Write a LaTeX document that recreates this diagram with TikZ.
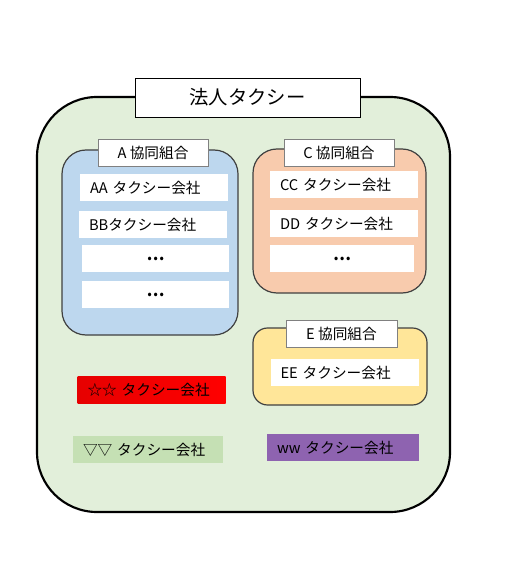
\documentclass[tikz,border=0pt]{standalone}
\usepackage{fontspec}
\setmainfont{Noto Sans CJK JP}
\usepackage{tikz}

\definecolor{outerfill}{RGB}{226,239,218}
\definecolor{bluefill}{RGB}{189,215,238}
\definecolor{orangefill}{RGB}{248,203,173}
\definecolor{yellowfill}{RGB}{255,230,153}
\definecolor{greenfill}{RGB}{197,224,180}
\definecolor{purplefill}{RGB}{142,99,176}
\definecolor{groupline}{RGB}{64,64,64}

\begin{document}
\begin{tikzpicture}[
        x=0.75pt, y=-0.75pt,
        font=\fontsize{11pt}{12pt}\selectfont,
        outer/.style={draw=black, line width=1.6pt, fill=outerfill, rounded corners=45pt},
        group/.style={draw=groupline, line width=0.9pt, rounded corners=18pt},
        title/.style={draw=black, line width=0.6pt, fill=white, minimum width=168.75pt, minimum height=29.25pt, font=\fontsize{14.5pt}{16pt}\selectfont},
        label/.style={draw=gray, line width=0.7pt, fill=white, minimum width=82.5pt, minimum height=20.25pt, inner sep=0pt},
        corp/.style={fill=white, minimum height=20.25pt, text width=96pt, inner xsep=7.5pt, inner ysep=0pt, align=left},
        dots/.style={fill=white, minimum width=110.25pt, minimum height=20.25pt, inner sep=0pt, font=\fontsize{12pt}{12pt}\bfseries}
    ]
        \useasboundingbox (0,0) rectangle (507,580);

        \draw[outer] (37,97) rectangle (450,512);
        \node[title] (houjin) at (247.5,97.5) {法人タクシー};

        \draw[group, fill=bluefill] (62,150) rectangle (238,335);
        \node[label] (kumiaiA) at (153,152.5) {A 協同組合};
        \node[corp] (aa) at (154,187.5) {AA タクシー会社};
        \node[corp] (bb) at (153,225) {BBタクシー会社};
        \node[dots] (dotsA1) at (155.5,258.5) {…};
        \node[dots] (dotsA2) at (155.5,294.5) {…};

        \draw[group, fill=orangefill] (253,149) rectangle (426,293);
        \node[label] (kumiaiC) at (339,153) {C 協同組合};
        \node[corp] (cc) at (344,184.5) {CC タクシー会社};
        \node[corp] (dd) at (344,223.5) {DD タクシー会社};
        \node[dots, minimum width=108pt] (dotsC) at (342,258.5) {…};

        \draw[group, fill=yellowfill, rounded corners=11pt] (253,328) rectangle (427,405);
        \node[label, minimum width=83.25pt] (kumiaiE) at (341.5,333.5) {E 協同組合};
        \node[corp] (ee) at (344.5,372.5) {EE タクシー会社};

        \node[corp, left color={rgb,255:red,230;green,0;blue,0}, right color=red] (star) at (151.5,389.5) {☆☆ タクシー会社};
        \node[corp, fill=greenfill, text width=97.5pt] (tri) at (148,449.5) {▽▽ タクシー会社};
        \node[corp, fill=purplefill, text width=99pt] (ww) at (343,447.5) {ww タクシー会社};
    \end{tikzpicture}
\end{document}
